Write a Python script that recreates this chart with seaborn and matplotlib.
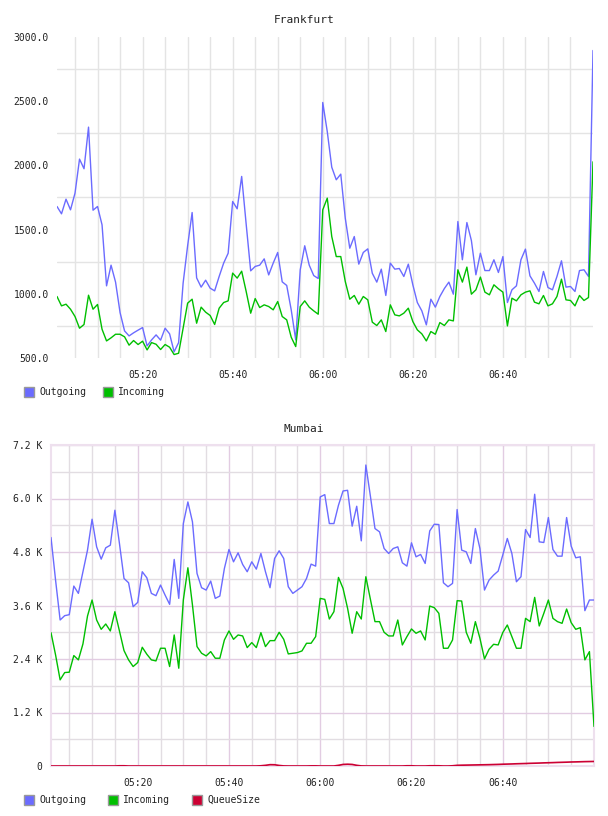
import numpy as np
import pandas as pd
import matplotlib
matplotlib.use("Agg")
import matplotlib.pyplot as plt
import matplotlib.dates as mdates
from matplotlib.ticker import FixedLocator, FuncFormatter, MultipleLocator
from matplotlib.patches import Rectangle
import seaborn as sns

# ---------------- data ----------------
times = pd.date_range("2024-01-01 05:01", periods=120, freq="min")

fra_outgoing = [1680, 1623, 1737, 1654, 1784, 2049, 1974, 2298, 1651, 1680,
                1537, 1062, 1223, 1091, 854, 711, 672, 696, 717, 737,
                594, 641, 680, 639, 732, 688, 548, 620, 1083, 1374,
                1633, 1124, 1052, 1106, 1044, 1023, 1135, 1239, 1316, 1719,
                1662, 1914, 1542, 1179, 1213, 1223, 1272, 1147, 1239, 1322,
                1093, 1065, 875, 641, 1187, 1374, 1223, 1142, 1119, 2490,
                2264, 1986, 1888, 1932, 1589, 1355, 1446, 1231, 1322, 1350,
                1160, 1091, 1192, 987, 1239, 1192, 1197, 1135, 1231, 1070,
                932, 867, 758, 958, 896, 979, 1041, 1091, 997, 1563,
                1265, 1555, 1415, 1148, 1316, 1181, 1181, 1265, 1166, 1290,
                932, 1031, 1062, 1265, 1348, 1140, 1083, 1018, 1174, 1049,
                1031, 1135, 1257, 1052, 1057, 1018, 1181, 1187, 1135, 2895]

fra_incoming = [979, 906, 919, 880, 823, 732, 761, 989, 880, 917,
                724, 633, 657, 685, 685, 665, 600, 636, 605, 631,
                563, 620, 607, 566, 605, 584, 527, 537, 732, 927,
                958, 771, 896, 857, 831, 761, 888, 932, 945, 1161,
                1122, 1176, 1018, 849, 963, 893, 914, 901, 875, 940,
                823, 797, 662, 589, 901, 945, 896, 867, 841, 1654,
                1745, 1446, 1290, 1290, 1096, 958, 987, 919, 979, 953,
                779, 753, 797, 706, 914, 836, 828, 849, 888, 784,
                719, 688, 633, 706, 685, 776, 753, 797, 789, 1187,
                1091, 1208, 997, 1031, 1130, 1013, 992, 1070, 1039, 1013,
                750, 966, 945, 992, 1013, 1023, 935, 922, 987, 906,
                922, 979, 1114, 953, 948, 906, 987, 948, 971, 2028]

mum_outgoing = [5125, 4170, 3275, 3372, 3394, 4036, 3872, 4357, 4842, 5535,
                4916, 4640, 4894, 4953, 5737, 4991, 4207, 4110, 3573, 3670,
                4357, 4222, 3872, 3820, 4058, 3834, 3626, 4633, 3760, 5438,
                5923, 5476, 4319, 3999, 3946, 4148, 3760, 3812, 4431, 4856,
                4580, 4782, 4521, 4357, 4580, 4416, 4767, 4357, 3999, 4655,
                4827, 4655, 4021, 3872, 3946, 4021, 4207, 4528, 4483, 6035,
                6087, 5438, 5438, 5849, 6169, 6184, 5379, 5826, 5050, 6751,
                6050, 5326, 5252, 4879, 4767, 4879, 4916, 4558, 4483, 5006,
                4692, 4745, 4543, 5274, 5423, 5416, 4110, 4021, 4096, 5752,
                4842, 4804, 4543, 5326, 4879, 3946, 4170, 4282, 4372, 4730,
                5103, 4767, 4133, 4245, 5304, 5125, 6095, 5028, 5013, 5573,
                4856, 4707, 4707, 5573, 4931, 4670, 4692, 3484, 3723, 3723]

mum_incoming = [2991, 2492, 1932, 2096, 2104, 2477, 2380, 2738, 3364, 3723,
                3275, 3066, 3185, 3029, 3461, 3029, 2589, 2380, 2231, 2320,
                2663, 2507, 2380, 2357, 2641, 2641, 2231, 2939, 2193, 3723,
                4446, 3611, 2678, 2529, 2469, 2566, 2417, 2417, 2827, 3029,
                2842, 2939, 2917, 2656, 2768, 2656, 2991, 2678, 2812, 2812,
                2999, 2842, 2514, 2529, 2544, 2581, 2753, 2753, 2902, 3760,
                3737, 3297, 3461, 4230, 3984, 3536, 2977, 3461, 3297, 4245,
                3737, 3238, 3238, 2999, 2917, 2917, 3275, 2715, 2902, 3074,
                2977, 3029, 2827, 3588, 3551, 3424, 2641, 2641, 2827, 3708,
                3700, 2999, 2753, 3238, 2865, 2402, 2618, 2730, 2715, 2991,
                3163, 2902, 2641, 2641, 3312, 3238, 3782, 3141, 3424, 3723,
                3312, 3238, 3200, 3521, 3215, 3066, 3103, 2380, 2566, 888]

mum_queue = [0, 0, 0, 0, 0, 0, 0, 0, 0, 0,
             0, 0, 0, 0, 0, 5, 5, 0, 0, 0,
             0, 0, 0, 0, 0, 0, 0, 0, 0, 0,
             0, 0, 0, 0, 0, 0, 0, 0, 0, 0,
             0, 0, 0, 0, 0, 0, 5, 15, 30, 28,
             12, 2, 0, 0, 0, 0, 0, 3, 3, 0,
             0, 0, 0, 15, 35, 40, 35, 15, 2, 0,
             0, 0, 0, 0, 0, 0, 0, 0, 5, 5,
             0, 0, 0, 5, 5, 5, 0, 0, 5, 15,
             18, 20, 22, 24, 26, 28, 30, 33, 36, 40,
             43, 46, 50, 53, 56, 60, 63, 66, 70, 73,
             76, 80, 83, 86, 90, 92, 95, 98, 100, 102]

x_tick_labels = ["05:20", "05:40", "06:00", "06:20", "06:40"]
fra_yticks = [500, 1000, 1500, 2000, 2500, 3000]
mum_yticks = [0, 1200, 2400, 3600, 4800, 6000, 7200]

# ---------------- style ----------------
sns.set_style("white")
plt.rcParams["font.family"] = ["DejaVu Sans Mono", "DejaVu Sans"]

C_OUT = "#6b6bff"
C_IN = "#00bf00"
C_Q = "#cc0033"

fig = plt.figure(figsize=(6.08, 8.16), dpi=100)
W, H = 608.0, 816.0

def axes_px(l, t, r, b):
    return fig.add_axes([l / W, 1 - b / H, (r - l) / W, (b - t) / H])

ax1 = axes_px(57, 37, 593, 358)
ax2 = axes_px(51, 445, 594, 766)

fra = pd.DataFrame({"time": times, "Outgoing": fra_outgoing, "Incoming": fra_incoming})
mum = pd.DataFrame({"time": times, "Outgoing": mum_outgoing, "Incoming": mum_incoming,
                    "QueueSize": mum_queue})

sns.lineplot(data=fra, x="time", y="Outgoing", ax=ax1, color=C_OUT, lw=1.0, zorder=3)
sns.lineplot(data=fra, x="time", y="Incoming", ax=ax1, color=C_IN, lw=1.0, zorder=3)

sns.lineplot(data=mum, x="time", y="Outgoing", ax=ax2, color=C_OUT, lw=1.0, zorder=3)
sns.lineplot(data=mum, x="time", y="Incoming", ax=ax2, color=C_IN, lw=1.0, zorder=3)
sns.lineplot(data=mum, x="time", y="QueueSize", ax=ax2, color=C_Q, lw=1.2, zorder=3)

tick_times = [pd.Timestamp("2024-01-01 " + t) for t in x_tick_labels]
minor_times = pd.date_range("2024-01-01 05:05", "2024-01-01 06:55", freq="5min")

for ax in (ax1, ax2):
    ax.set_xlim(times[0], times[-1])
    ax.set_xlabel("")
    ax.set_ylabel("")
    ax.xaxis.set_major_locator(FixedLocator(mdates.date2num(tick_times)))
    ax.xaxis.set_major_formatter(mdates.DateFormatter("%H:%M"))
    ax.xaxis.set_minor_locator(FixedLocator(mdates.date2num(minor_times)))
    ax.tick_params(axis="both", which="both", length=0, labelsize=7, colors="#222222")
    ax.tick_params(axis="x", pad=9)
    ax.tick_params(axis="y", pad=6)
    ax.set_axisbelow(True)

# Frankfurt axes
ax1.set_ylim(500, 3000)
ax1.yaxis.set_major_locator(FixedLocator(fra_yticks))
ax1.yaxis.set_major_formatter(FuncFormatter(lambda v, p: f"{v:.1f}"))
ax1.yaxis.set_minor_locator(FixedLocator([750, 1250, 1750, 2250, 2750]))
ax1.grid(True, which="both", axis="x", color="#e4e4e4", lw=1.0)
ax1.grid(True, which="minor", axis="y", color="#e4e4e4", lw=1.0)
ax1.grid(False, which="major", axis="y")
for s in ax1.spines.values():
    s.set_visible(False)

# Mumbai axes
ax2.set_ylim(0, 7200)
ax2.yaxis.set_major_locator(FixedLocator(mum_yticks))
ax2.yaxis.set_major_formatter(FuncFormatter(lambda v, p: "0" if v == 0 else f"{v/1000:.1f} K"))
ax2.yaxis.set_minor_locator(MultipleLocator(600))
ax2.grid(True, which="major", color="#e2cce2", lw=1.0)
ax2.grid(True, which="minor", color="#e2dde2", lw=1.0)
for s in ax2.spines.values():
    s.set_visible(True)
    s.set_color("#eee0ee")
    s.set_linewidth(1.5)

# titles (centered on figure)
fig.text(304 / W, 1 - 20 / H, "Frankfurt", ha="center", va="center", fontsize=8, color="#222222")
fig.text(304 / W, 1 - 429 / H, "Mumbai", ha="center", va="center", fontsize=8, color="#222222")

# legends
def legend_item(xp, yp, color, label):
    fig.add_artist(Rectangle((xp / W, 1 - (yp + 5) / H), 10 / W, 10 / H,
                             transform=fig.transFigure, facecolor=color,
                             edgecolor="#999999", lw=1.0))
    fig.text((xp + 15) / W, 1 - yp / H, label, ha="left", va="center",
             fontsize=7, color="#222222")

legend_item(24, 392, C_OUT, "Outgoing")
legend_item(103, 392, C_IN, "Incoming")
legend_item(24, 800, C_OUT, "Outgoing")
legend_item(108, 800, C_IN, "Incoming")
legend_item(192, 800, C_Q, "QueueSize")

fig.savefig("out.png", dpi=100)
